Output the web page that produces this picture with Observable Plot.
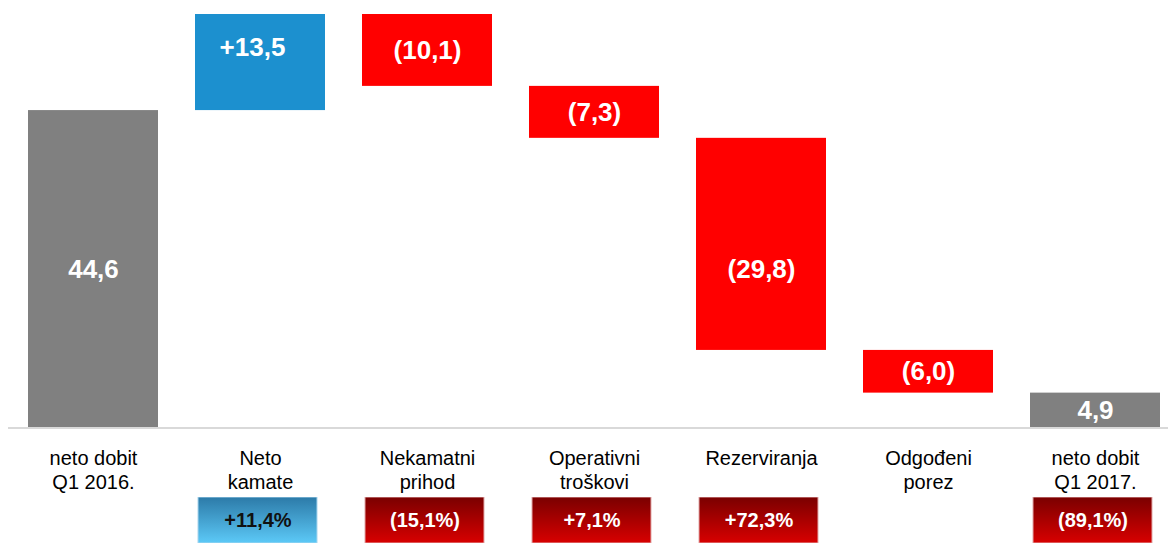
<!DOCTYPE html>
<html><head><meta charset="utf-8">
<script src="https://cdn.jsdelivr.net/npm/d3@7"></script>
<script src="https://cdn.jsdelivr.net/npm/@observablehq/plot@0.6"></script>
<style>
html,body{margin:0;padding:0;background:#fff;}
#chart svg{display:block;}
</style></head><body><div id="chart"></div>
<script>
const categories = ["neto dobit\nQ1 2016.", "Neto\nkamate", "Nekamatni\nprihod", "Operativni\ntroškovi", "Rezerviranja", "Odgođeni\nporez", "neto dobit\nQ1 2017."];
const changes = [44.6, 13.5, -10.1, -7.3, -29.8, -6.0, 4.9];
const kinds = ["total", "delta", "delta", "delta", "delta", "delta", "total"];
const valueLabels = ["44,6", "+13,5", "(10,1)", "(7,3)", "(29,8)", "(6,0)", "4,9"];
const pctLabels = [null, "+11,4%", "(15,1%)", "+7,1%", "+72,3%", null, "(89,1%)"];
const pctTone = [null, "good", "bad", "bad", "bad", null, "bad"];

const FONT = "Liberation Sans, Arial, Helvetica, sans-serif";
let run = 0;
const rows = categories.map((c, i) => {
  let y1, y2;
  if (kinds[i] === "total") { y1 = 0; y2 = changes[i]; run = changes[i]; }
  else { y1 = run; y2 = run + changes[i]; run = y2; }
  return {cat: c, y1, y2, i, kind: kinds[i], change: changes[i], label: valueLabels[i]};
});
const yMax = d3.max(rows, d => Math.max(d.y1, d.y2));
const barColor = d => d.kind === "total" ? "#808080" : d.change > 0 ? "#1c90cf" : "#ff0000";

const xOpts = {domain: categories, range: [7, 1181], paddingInner: 0.22, paddingOuter: 0.11, align: 0.5};

const mid = d => (d.y1 + d.y2) / 2;
const main = Plot.plot({
  width: 1168, height: 497,
  marginTop: 14, marginBottom: 69.5, marginLeft: 8, marginRight: 0,
  x: {...xOpts, axis: null, label: null},
  y: {domain: [0, yMax], axis: null},
  color: {type: "identity"},
  style: {fontFamily: FONT, fontSize: "20px", background: "white", color: "#000"},
  marks: [
    Plot.barY(rows, {x: "cat", y1: "y1", y2: "y2", fill: barColor}),
    Plot.ruleY([0], {stroke: "#d9d9d9", strokeWidth: 2}),
    Plot.axisX({domain: categories, tickSize: 0, tickPadding: 20, fontSize: 20, lineHeight: 1.2, label: null, fill: "#000"}),
    Plot.text(rows.filter(d => d.i !== 1 && d.i !== 4), {x: "cat", y: mid, text: "label", fill: "white", fontSize: 26, fontWeight: "bold"}),
    Plot.text(rows.filter(d => d.i === 1), {x: "cat", y: mid, text: "label", fill: "white", fontSize: 26, fontWeight: "bold", dy: -15, dx: -8}),
    Plot.text(rows.filter(d => d.i === 4), {x: "cat", y: mid, text: "label", fill: "white", fontSize: 26, fontWeight: "bold", dy: 25})
  ]
});

const pctRows = categories.map((c, i) => ({cat: c, text: pctLabels[i], tone: pctTone[i]})).filter(d => d.text);
const good = pctRows.filter(d => d.tone === "good");
const bad = pctRows.filter(d => d.tone === "bad");
const lower = Plot.plot({
  width: 1168, height: 46,
  marginTop: 0, marginBottom: 0, marginLeft: 8, marginRight: 0,
  x: {...xOpts, axis: null, label: null},
  style: {fontFamily: FONT, background: "white"},
  marks: [
    Plot.cell(good, {x: "cat", fill: "url(#gBlue)", stroke: "#a9d6ee", strokeWidth: 1, insetLeft: 3, insetRight: 8}),
    Plot.cell(bad, {x: "cat", fill: "url(#gRed)", stroke: "#e2aaaa", strokeWidth: 1, insetLeft: 3, insetRight: 8}),
    Plot.text(good, {x: "cat", text: "text", fill: "#111", fontSize: 20, fontWeight: "bold", dx: -2.5}),
    Plot.text(bad, {x: "cat", text: "text", fill: "white", fontSize: 20, fontWeight: "bold", dx: -2.5})
  ]
});
const NS = "http://www.w3.org/2000/svg";
const defs = document.createElementNS(NS, "defs");
function grad(id, top, bottom) {
  const g = document.createElementNS(NS, "linearGradient");
  g.setAttribute("id", id);
  g.setAttribute("x1", "0"); g.setAttribute("y1", "0"); g.setAttribute("x2", "0"); g.setAttribute("y2", "1");
  [[0, top], [1, bottom]].forEach(([o, c]) => {
    const s = document.createElementNS(NS, "stop");
    s.setAttribute("offset", o); s.setAttribute("stop-color", c);
    g.appendChild(s);
  });
  defs.appendChild(g);
}
grad("gBlue", "#2c7aa8", "#5cc9f7");
grad("gRed", "#7a0000", "#d80000");
lower.insertBefore(defs, lower.firstChild);

const chart = document.getElementById("chart");
chart.appendChild(main);
chart.appendChild(lower);
</script>
</body></html>
